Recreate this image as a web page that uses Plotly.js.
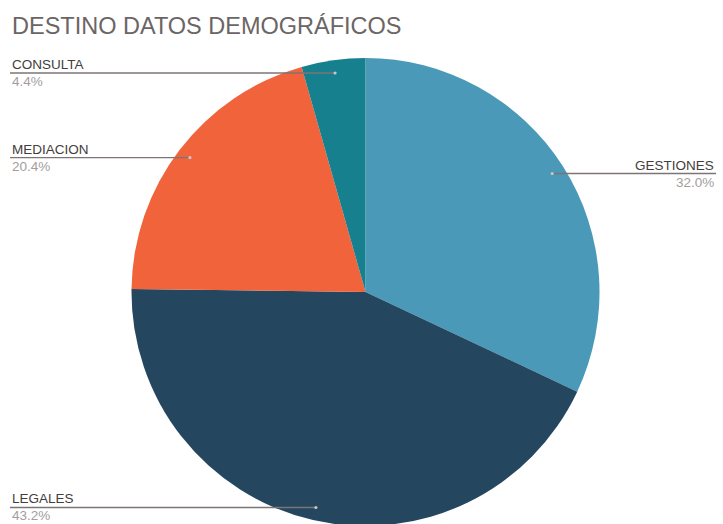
<!DOCTYPE html>
<html>
<head>
<meta charset="utf-8">
<script src="https://cdn.plot.ly/plotly-3.0.1.min.js"></script>
<style>
html, body { margin: 0; padding: 0; overflow: hidden; background: #fff; }
#chart { width: 723px; height: 540px; }
</style>
</head>
<body>
<div id="chart"></div>
<script>
// ---- data ----
const categories = ["GESTIONES", "LEGALES", "MEDIACION", "CONSULTA"];
const values = [32.0, 43.2, 20.4, 4.4];
const pctLabels = ["32.0%", "43.2%", "20.4%", "4.4%"];
const colors = ["#4b99b8", "#24465f", "#f1633a", "#17808f"];
const chartTitle = "DESTINO DATOS DEMOGRÁFICOS";

// ---- layout constants ----
const W = 723, H = 540;
const CX = 365.5, CY = 292, R = 234;
const MT = CY - R, MB = H - (CY + R);
const PH = H - MT - MB;
const px2x = p => p / W;
const py2y = p => (CY + R - p) / PH;

const total = values.reduce((a, b) => a + b, 0);
const annotations = [];
const shapes = [];
let cum = 0;
values.forEach((v, i) => {
  const mid = (cum + v / 2) / total * 2 * Math.PI;
  cum += v;
  const dx = CX + 0.945 * R * Math.sin(mid);
  const dy = CY - 0.945 * R * Math.cos(mid);
  const right = Math.sin(mid) > 0;
  const endX = right ? 716 : 10;
  shapes.push({
    type: "line", xref: "paper", yref: "paper",
    x0: px2x(dx), y0: py2y(dy), x1: px2x(endX), y1: py2y(dy),
    line: { color: "#7d7575", width: 1.3 }
  });
  shapes.push({
    type: "circle", xref: "paper", yref: "paper",
    x0: px2x(dx - 1.6), x1: px2x(dx + 1.6), y0: py2y(dy - 1.6), y1: py2y(dy + 1.6),
    fillcolor: "#c8c8c8", line: { width: 0 }
  });
  annotations.push({
    xref: "paper", yref: "paper", x: px2x(endX), y: py2y(dy),
    xanchor: right ? "right" : "left", yanchor: "bottom",
    text: categories[i], showarrow: false, yshift: -1,
    font: { family: "Liberation Sans, Arial, sans-serif", size: 13.5, color: "#433d3d" }
  });
  annotations.push({
    xref: "paper", yref: "paper", x: px2x(endX), y: py2y(dy),
    xanchor: right ? "right" : "left", yanchor: "top",
    text: pctLabels[i], showarrow: false, yshift: 1,
    font: { family: "Liberation Sans, Arial, sans-serif", size: 13.5, color: "#a39d9d" }
  });
});

const trace = {
  type: "pie",
  labels: categories,
  values: values,
  sort: false,
  direction: "clockwise",
  rotation: 0,
  textinfo: "none",
  hoverinfo: "label+percent",
  marker: { colors: colors, line: { width: 0 } },
  domain: { x: [px2x(CX - R), px2x(CX + R)], y: [0, 1] },
  showlegend: false
};

const layout = {
  width: W, height: H,
  margin: { l: 0, r: 0, t: MT, b: MB, pad: 0 },
  paper_bgcolor: "#ffffff",
  title: {
    text: chartTitle,
    x: 12 / W, xanchor: "left", xref: "paper",
    y: 1 - 26 / H, yanchor: "middle", yref: "container",
    font: { family: "Liberation Sans, Arial, sans-serif", size: 23.5, color: "#6b6565" }
  },
  annotations: annotations,
  shapes: shapes,
  showlegend: false
};

Plotly.newPlot("chart", [trace], layout, { displayModeBar: false, staticPlot: true });
</script>
</body>
</html>
